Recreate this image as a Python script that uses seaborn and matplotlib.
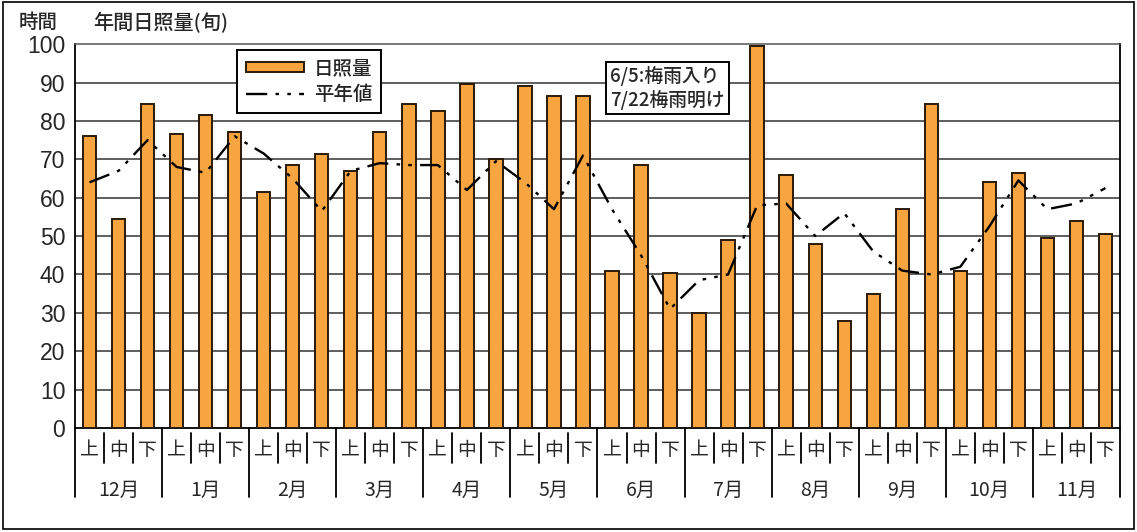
import numpy as np
import pandas as pd
import matplotlib
matplotlib.use("Agg")
import matplotlib.pyplot as plt
import seaborn as sns
from matplotlib.patches import Rectangle, Patch
from matplotlib.lines import Line2D

months = ["12月", "1月", "2月", "3月", "4月", "5月", "6月", "7月", "8月", "9月", "10月", "11月"]
decades = ["上", "中", "下"]

sunshine = [76, 54.5, 84.5,
            76.5, 81.5, 77,
            61.5, 68.5, 71.5,
            67, 77, 84.5,
            82.5, 89.5, 70,
            89, 86.5, 86.5,
            41, 68.5, 40.5,
            30, 49, 99.5,
            66, 48, 28,
            35, 57, 84.5,
            41, 64, 66.5,
            49.5, 54, 50.5]

normal = [64, 67, 75,
          68, 66.5, 76,
          71.5, 65, 56.5,
          67, 69, 68.5,
          68.5, 62, 69.5,
          64, 57, 71,
          57, 45, 31,
          38.5, 40, 58,
          58.5, 50, 56,
          46, 41, 40,
          42, 52.5, 64.5,
          57, 58.5, 62.5]

y_ticks = list(range(0, 101, 10))

sns.set_theme(style="white")
plt.rcParams['font.family'] = ['Noto Sans CJK JP', 'DejaVu Sans']

labels = [m + d for m in months for d in decades]
n = len(labels)
pos = np.arange(n)
df = pd.DataFrame({"pos": pos, "label": labels, "sunshine": sunshine, "normal": normal})

fig = plt.figure(figsize=(11.37, 5.32), dpi=100)
ax = fig.add_axes([0.066, 0.1955, 0.919, 0.7215])

bar_color = "#F6A540"
edge_color = "#2a1a08"
dash = [9, 3.5, 1.5, 3.5, 1.5, 3.5]

sns.barplot(data=df, x="pos", y="sunshine", color=bar_color, saturation=1,
            width=0.46, edgecolor=edge_color, linewidth=1.4, ax=ax, zorder=3)
sns.lineplot(data=df, x="pos", y="normal", color="black", lw=1.7, ax=ax, zorder=4)
ax.lines[-1].set_dashes(dash)

ax.set_xlim(-0.5, n - 0.5)
ax.set_ylim(0, 100)
ax.set_yticks(y_ticks)
ax.set_yticklabels([str(t) for t in y_ticks], fontsize=16.5,
                   family=['Liberation Sans', 'DejaVu Sans'])
ax.tick_params(axis='y', length=0, pad=7)
ax.set_xticks([])
ax.set_xlabel("")
ax.set_ylabel("")
for t in y_ticks[1:-1]:
    ax.axhline(t, color="#333333", lw=1.1, zorder=1)

for s in ["left", "right", "bottom"]:
    ax.spines[s].set_color("black")
    ax.spines[s].set_linewidth(1.3)
ax.spines["top"].set_color("#555555")
ax.spines["top"].set_linewidth(1.1)

xt = ax.get_xaxis_transform()
for i, lab in enumerate(labels):
    ax.text(i, -0.058, decades[i % 3], transform=xt, ha="center", va="center", fontsize=13.5)
for j, m in enumerate(months):
    ax.text(3 * j + 1, -0.163, m, transform=xt, ha="center", va="center", fontsize=14)
for i in range(n + 1):
    x = i - 0.5
    if i % 3 == 0:
        ax.plot([x, x], [0, -0.18], transform=xt, color="black", lw=1.3, clip_on=False)
    else:
        ax.plot([x, x], [-0.012, -0.09], transform=xt, color="black", lw=1.3, clip_on=False)

handles = [Patch(facecolor=bar_color, edgecolor=edge_color, linewidth=1.4),
           Line2D([0], [0], color="black", lw=1.7, dashes=dash)]
leg = ax.legend(handles, ["日照量", "平年値"], loc="upper left", bbox_to_anchor=(0.155, 0.984),
                frameon=True, fancybox=False, framealpha=1, edgecolor="black",
                prop=dict(family=['Noto Sans CJK JP'], size=14, weight='medium'),
                handlelength=3.0, handleheight=0.4, borderpad=0.45,
                labelspacing=0.35, handletextpad=0.5, borderaxespad=0)
leg.get_frame().set_linewidth(1.4)
leg.set_zorder(6)

ax.text(0.512, 0.942, "6/5:梅雨入り\n7/22梅雨明け", transform=ax.transAxes, ha="left", va="top",
        fontsize=13.5, linespacing=1.2, zorder=6, fontweight='medium',
        bbox=dict(boxstyle="square,pad=0.22", facecolor="white", edgecolor="black", linewidth=1.4))

fig.text(0.016, 0.958, "時間", fontsize=14, ha="left", va="center", fontweight='medium')
fig.text(0.082, 0.958, "年間日照量(旬)", fontsize=14.5, ha="left", va="center", fontweight='medium')

fig.patches.append(Rectangle((0.003, 0.006), 0.994, 0.99, transform=fig.transFigure,
                             fill=False, edgecolor="black", lw=1.2))

fig.savefig("out.png", dpi=100)
